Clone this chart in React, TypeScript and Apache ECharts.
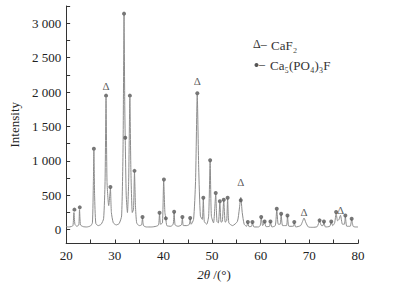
import React, { useEffect, useRef } from "react";
import * as echarts from "echarts";

// XRD trace: [2θ (°), intensity]
const traceX = [
  20.0, 20.5, 21.0, 21.4, 21.6, 21.8, 22.2, 22.6, 22.75, 22.95, 23.5, 24.2, 25.0, 25.4, 25.6, 25.7, 25.85, 26.1, 26.6,
  27.2, 27.7, 28.0, 28.2, 28.4, 28.75, 29.0, 29.1, 29.3, 29.7, 30.3, 30.9, 31.4, 31.7, 31.9, 32.05, 32.15, 32.35,
  32.6, 32.85, 33.1, 33.3, 33.6, 33.85, 34.05, 34.25, 34.5, 35.0, 35.5, 35.7, 35.9, 36.5, 37.5, 38.5, 39.0, 39.2,
  39.4, 39.8, 40.05, 40.3, 40.5, 40.7, 41.5, 42.0, 42.2, 42.4, 43.0, 43.7, 43.9, 44.1, 44.8, 45.35, 45.5, 45.7,
  46.2, 46.6, 46.95, 47.25, 47.6, 48.0, 48.2, 48.4, 48.9, 49.3, 49.6, 49.85, 50.3, 50.75, 51.0, 51.3, 51.6, 51.85,
  52.1, 52.4, 52.7, 53.0, 53.2, 53.45, 54.2, 55.2, 55.6, 55.9, 56.2, 56.6, 57.1, 57.35, 57.6, 58.1, 58.3, 58.6,
  59.5, 59.9, 60.1, 60.4, 60.8, 61.1, 61.8, 62.0, 62.3, 63.0, 63.3, 63.6, 64.0, 64.2, 64.5, 65.3, 65.5, 65.8,
  66.7, 66.9, 67.2, 68.2, 68.6, 68.9, 69.3, 69.8, 70.7, 71.6, 72.1, 72.5, 72.8, 73.0, 73.3, 74.2, 74.5, 74.8,
  75.2, 75.5, 75.8, 76.1, 76.4, 76.8, 77.2, 77.4, 77.7, 78.4, 78.7, 79.0, 79.5, 80.0,
];
const traceY = [
  45, 40, 45, 60, 250, 80, 50, 70, 290, 70, 45, 40, 55, 100, 700, 1150, 500, 90, 60,
  80, 160, 700, 1920, 700, 350, 520, 600, 250, 100, 70, 90, 200, 1200, 3120, 1800, 1300, 500,
  250, 700, 1920, 900, 250, 300, 830, 350, 100, 60, 70, 170, 60, 40, 40, 50, 70, 230,
  80, 100, 710, 250, 160, 60, 50, 80, 250, 70, 50, 70, 170, 60, 60, 80, 160, 80,
  150, 700, 1960, 900, 200, 150, 450, 120, 80, 200, 990, 200, 100, 510, 120, 100, 390, 110,
  120, 420, 110, 130, 450, 100, 60, 120, 300, 470, 250, 80, 50, 100, 45, 50, 100, 40,
  40, 60, 170, 60, 110, 45, 50, 110, 40, 60, 290, 80, 80, 220, 60, 60, 195, 50,
  50, 100, 40, 60, 120, 170, 100, 40, 35, 45, 125, 60, 60, 110, 40, 50, 110, 60,
  100, 240, 130, 150, 210, 80, 80, 190, 50, 50, 150, 50, 40, 40,
];

// "*" markers: Ca5(PO4)3F
const apatiteX = [
  21.7, 22.8, 25.7, 28.2, 29.1, 31.9, 32.15, 33.1, 34.05, 35.7, 39.2, 40.1, 40.5, 42.2, 43.9, 45.5, 46.96, 48.2,
  49.6, 50.75, 51.6, 52.4, 53.2, 55.9, 57.35, 58.3, 60.1, 60.8, 62.0, 63.3, 64.2, 65.5, 66.9, 72.1, 73.0, 74.5,
  75.5, 77.4, 78.7,
];
const apatiteY = [
  292, 325, 1175, 1948, 621, 3139, 1336, 1948, 855, 184, 248, 729, 165, 262, 184, 170, 1983, 466,
  1010, 534, 413, 437, 466, 427, 111, 111, 184, 121, 121, 306, 233, 208, 111, 136, 121, 121,
  257, 208, 160,
];

// "Δ" markers: CaF2
const fluoriteX = [28.2, 46.96, 55.9, 68.9, 76.4];
const fluoriteY = [2084, 2162, 694, 257, 281];

const yLabelValues = [0, 500, 1000, 1500, 2000, 2500, 3000];
const yTickValues = [0, 250, 500, 750, 1000, 1250, 1500, 1750, 2000, 2250, 2500, 2750, 3000, 3250];

const FONT = "'Liberation Serif', 'Times New Roman', 'DejaVu Serif', serif";

export default function App() {
  const ref = useRef<HTMLDivElement>(null);
  useEffect(() => {
    if (!ref.current) return;
    const chart = echarts.init(ref.current, null, { renderer: "svg" });
    const axisColor = "#333";
    chart.setOption({
      animation: false,
      backgroundColor: "#fff",
      grid: { left: 62, right: 41, top: 6, bottom: 41.5 },
      xAxis: {
        type: "value",
        min: 20,
        max: 80,
        interval: 5,
        axisLine: { onZero: false, lineStyle: { color: axisColor, width: 1 } },
        axisTick: { inside: true, length: 4, lineStyle: { color: axisColor } },
        axisLabel: {
          fontFamily: FONT,
          fontSize: 13,
          color: "#222",
          margin: 5,
          formatter: (v: number) => (v % 10 === 0 ? String(v) : ""),
        },
        splitLine: { show: false },
      },
      yAxis: {
        type: "value",
        min: -200,
        max: 3250,
        name: "Intensity",
        nameLocation: "middle",
        nameGap: 38,
        nameTextStyle: { fontFamily: FONT, fontSize: 13, color: "#222" },
        axisLine: { show: true, lineStyle: { color: axisColor, width: 1 } },
        axisTick: { show: true, inside: true, length: 4, customValues: yTickValues, lineStyle: { color: axisColor } },
        axisLabel: {
          fontFamily: FONT,
          fontSize: 13,
          color: "#222",
          margin: 5,
          customValues: yLabelValues,
          formatter: (v: number) => (v >= 1000 ? `${Math.floor(v / 1000)} ${String(v % 1000).padStart(3, "0")}` : String(v)),
        },
        splitLine: { show: false },
      },
      graphic: [
        { type: "text", left: 253, top: 38, style: { text: "Δ–", fontFamily: FONT, fontSize: 12, fill: "#333" } },
        { type: "text", left: 271, top: 39, style: { text: "CaF₂", fontFamily: FONT, fontSize: 13, fill: "#333" } },
        { type: "circle", shape: { cx: 256.5, cy: 65, r: 2 }, style: { fill: "#555" } },
        { type: "text", left: 259, top: 58, style: { text: "–", fontFamily: FONT, fontSize: 12, fill: "#333" } },
        { type: "text", left: 270, top: 59, style: { text: "Ca₅(PO₄)₃F", fontFamily: FONT, fontSize: 13, fill: "#333" } },
        {
          type: "text",
          x: 214,
          y: 274,
          style: {
            text: "{i|2θ} /(°)",
            align: "center",
            verticalAlign: "middle",
            fontFamily: FONT,
            fontSize: 13,
            fill: "#222",
            rich: { i: { fontStyle: "italic", fontFamily: FONT, fontSize: 13, fill: "#222" } },
          },
        },
      ],
      series: [
        {
          type: "line",
          data: traceX.map((x, i) => [x, traceY[i]]),
          showSymbol: false,
          smooth: 0.2,
          lineStyle: { color: "#8c8c8c", width: 1 },
          z: 2,
        },
        {
          type: "scatter",
          data: apatiteX.map((x, i) => [x, apatiteY[i]]),
          symbol: "circle",
          symbolSize: 4,
          itemStyle: { color: "#555" },
          z: 3,
        },
        {
          type: "scatter",
          data: fluoriteX.map((x, i) => [x, fluoriteY[i]]),
          symbolSize: 1,
          itemStyle: { color: "rgba(0,0,0,0)" },
          label: {
            show: true,
            position: "inside",
            formatter: "Δ",
            fontFamily: FONT,
            fontSize: 11,
            color: "#333",
          },
          z: 3,
        },
      ],
    });
    return () => chart.dispose();
  }, []);
  return <div ref={ref} style={{ width: 399, height: 285, position: "absolute", left: 0, top: 0 }} />;
}
